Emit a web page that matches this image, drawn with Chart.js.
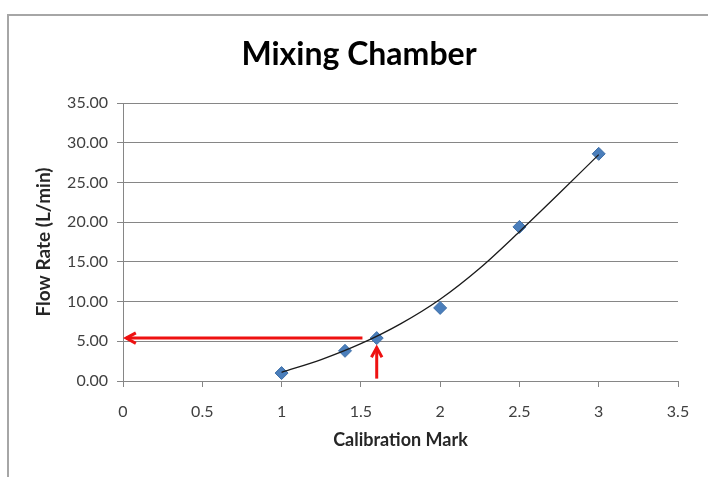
<!DOCTYPE html>
<html>
<head>
<meta charset="utf-8">
<script src="https://cdn.jsdelivr.net/npm/chart.js@4/dist/chart.umd.min.js"></script>
<style>
  html, body { margin: 0; padding: 0; background: #fff; }
  #wrap { width: 708px; height: 477px; position: relative; }
</style>
</head>
<body>
<div id="wrap"><canvas id="chart"></canvas></div>
<script>
const calibrationMarks = [1, 1.4, 1.6, 2, 2.5, 3];
const flowRates = [1.0, 3.8, 5.4, 9.2, 19.4, 28.6];

// trendline
const trendMarks = [1, 1.25, 1.5, 1.75, 2, 2.25, 2.5, 2.75, 3];
const trendRates = [1.1, 2.7, 4.7, 7.2, 10.3, 14.2, 18.8, 23.6, 28.5];

const yTicks = [0, 5, 10, 15, 20, 25, 30, 35];
const xTicks = [0, 0.5, 1, 1.5, 2, 2.5, 3, 3.5];

// red read-off arrows: [tailX, tailY, tipX, tipY]
const arrows = [
  [1.51, 5.4, 0.02, 5.4],
  [1.6, 0.3, 1.6, 4.2],
];

const FONT = 'Lato, "Open Sans", sans-serif';

const frame = {
  id: 'frame',
  beforeDraw(chart) {
    const { ctx } = chart;
    ctx.save();
    ctx.fillStyle = '#fff';
    ctx.fillRect(0, 0, chart.width, chart.height);
    ctx.strokeStyle = '#a6a6a6';
    ctx.lineWidth = 2;
    ctx.strokeRect(8, 15, chart.width + 20, chart.height + 20);
    ctx.restore();
  },
};

const arrowLines = {
  id: 'arrowLines',
  afterDatasetsDraw(chart) {
    const { ctx, scales: { x, y } } = chart;
    ctx.save();
    ctx.strokeStyle = '#ee1111';
    ctx.lineWidth = 3;
    arrows.forEach(([x0, y0, x1, y1]) => {
      const ax = x.getPixelForValue(x0);
      const ay = y.getPixelForValue(y0);
      const bx = x.getPixelForValue(x1);
      const by = y.getPixelForValue(y1);
      const ang = Math.atan2(by - ay, bx - ax);
      ctx.beginPath();
      ctx.moveTo(ax, ay);
      ctx.lineTo(bx, by);
      ctx.stroke();
      const len = 11;
      ctx.beginPath();
      ctx.moveTo(bx - len * Math.cos(ang - 0.5), by - len * Math.sin(ang - 0.5));
      ctx.lineTo(bx, by);
      ctx.lineTo(bx - len * Math.cos(ang + 0.5), by - len * Math.sin(ang + 0.5));
      ctx.stroke();
    });
    ctx.restore();
  },
};

new Chart(document.getElementById('chart'), {
  type: 'scatter',
  data: {
    datasets: [
      {
        label: 'Trend',
        type: 'line',
        data: trendMarks.map((m, i) => ({ x: m, y: trendRates[i] })),
        borderColor: '#1a1a1a',
        borderWidth: 1.3,
        pointRadius: 0,
        cubicInterpolationMode: 'monotone',
        fill: false,
        order: 0,
      },
      {
        label: 'Flow Rate',
        data: calibrationMarks.map((m, i) => ({ x: m, y: flowRates[i] })),
        pointStyle: 'rectRot',
        pointRadius: 6.5,
        backgroundColor: '#4a7ebb',
        borderColor: '#3f70a8',
        borderWidth: 1,
        order: 1,
      },
    ],
  },
  options: {
    responsive: true,
    maintainAspectRatio: false,
    animation: false,
    events: [],
    // left/right padding also puts the title centre where the original has it
    layout: { padding: { left: 40, right: 30, top: 0, bottom: 0 } },
    plugins: {
      legend: { display: false },
      tooltip: { enabled: false },
      title: {
        display: true,
        text: 'Mixing Chamber',
        color: '#000',
        font: { family: FONT, size: 32, weight: 'bold' },
        padding: { top: 35, bottom: 29.6 },
      },
    },
    scales: {
      x: {
        type: 'linear',
        min: 0,
        max: 3.5,
        afterBuildTicks: (s) => { s.ticks = xTicks.map((v) => ({ value: v })); },
        afterFit: (s) => { s.height = 96; },
        ticks: {
          color: '#404040',
          font: { family: FONT, size: 16 },
          padding: 15,
          maxRotation: 0,
          callback: (v) => String(v),
        },
        grid: {
          drawOnChartArea: false,
          drawTicks: true,
          tickLength: 6,
          color: '#868686',
        },
        border: { color: '#868686', width: 1 },
        title: {
          display: true,
          text: 'Calibration Mark',
          color: '#262626',
          font: { family: FONT, size: 18, weight: 'bold' },
          padding: { top: 0, bottom: 26 },
        },
      },
      y: {
        type: 'linear',
        min: 0,
        max: 35,
        afterBuildTicks: (s) => { s.ticks = yTicks.map((v) => ({ value: v })); },
        afterFit: (s) => { s.width = 83; },
        ticks: {
          color: '#404040',
          font: { family: FONT, size: 16 },
          padding: 9,
          callback: (v) => Number(v).toFixed(2),
        },
        grid: {
          color: '#868686',
          tickLength: 6,
        },
        border: { color: '#868686', width: 1 },
        title: {
          display: true,
          text: 'Flow Rate (L/min)',
          color: '#262626',
          font: { family: FONT, size: 19, weight: 'bold' },
          padding: { top: -7.4, bottom: 0 },
        },
      },
    },
  },
  plugins: [frame, arrowLines],
});
</script>
</body>
</html>
